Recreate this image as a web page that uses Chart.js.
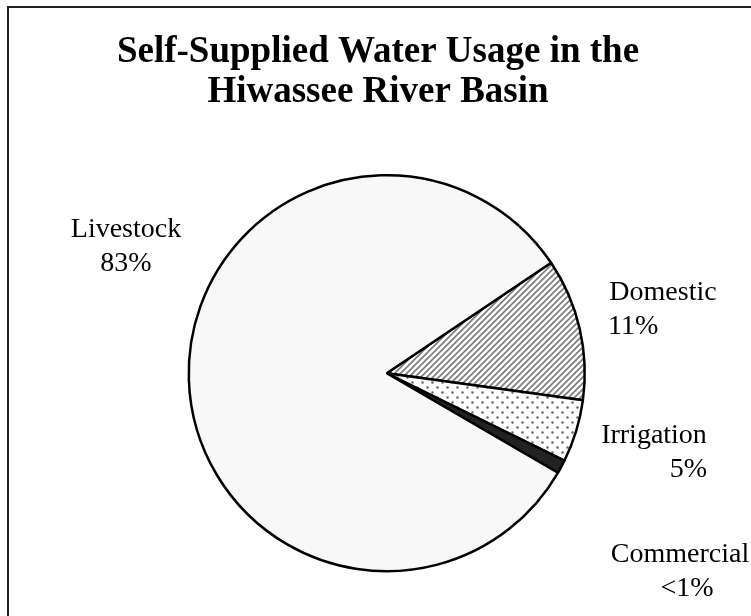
<!DOCTYPE html>
<html lang="en">
<head>
    <meta charset="UTF-8">
    <title>Self-Supplied Water Usage in the Hiwassee River Basin</title>
    <style>
        body {
            margin: 0;
            padding: 0;
            background-color: #ffffff;
        }
        #wrap {
            position: relative;
            width: 751px;
            height: 616px;
        }
    </style>
</head>
<body>

<div id="wrap">
    <canvas id="waterChart" width="751" height="616"></canvas>
</div>

<script src="https://cdn.jsdelivr.net/npm/chart.js@4.4.0/dist/chart.umd.min.js"></script>
<script>
    // data
    const categories = ['Domestic', 'Irrigation', 'Commercial', 'Livestock'];
    const usageShare = [11.6, 5.1, 1.1, 82.2]; // percent of self-supplied use
    const shareLabels = ['11%', '5%', '<1%', '83%'];
    const titleLines = ['Self-Supplied Water Usage in the', 'Hiwassee River Basin'];

    // label layout: name centre x, first baseline y, and x / align of the percent line
    const labelSpots = [
        { x: 663, y: 300, px: 608, align: 'left' },
        { x: 654, y: 443, px: 707, align: 'right' },
        { x: 680, y: 562, px: 687, align: 'center' },
        { x: 126, y: 237, px: 126, align: 'center' }
    ];

    function makePattern(kind) {
        const c = document.createElement('canvas');
        const g = c.getContext('2d');
        if (kind === 'stripes') {
            c.width = 6; c.height = 6;
            g.fillStyle = '#ffffff';
            g.fillRect(0, 0, 6, 6);
            g.strokeStyle = '#7a7a7a';
            g.lineWidth = 1.6;
            g.beginPath();
            g.moveTo(-1, 7); g.lineTo(7, -1);
            g.moveTo(-1, 1); g.lineTo(1, -1);
            g.moveTo(5, 7); g.lineTo(7, 5);
            g.stroke();
        } else {
            c.width = 10; c.height = 10;
            g.fillStyle = '#ffffff';
            g.fillRect(0, 0, 10, 10);
            g.fillStyle = '#666666';
            g.beginPath();
            g.arc(2.5, 2.5, 1.3, 0, Math.PI * 2);
            g.arc(7.5, 7.5, 1.3, 0, Math.PI * 2);
            g.fill();
        }
        return g.createPattern(c, 'repeat');
    }

    const ctx = document.getElementById('waterChart').getContext('2d');
    const fills = [makePattern('stripes'), makePattern('dots'), '#222222', '#f8f8f8'];

    // title, frame and the slice labels
    const decorations = {
        id: 'decorations',
        beforeDraw(chart) {
            const c = chart.ctx;
            c.save();
            c.fillStyle = '#ffffff';
            c.fillRect(0, 0, chart.width, chart.height);
            c.strokeStyle = '#222222';
            c.lineWidth = 2;
            c.strokeRect(8, 7, 770, 640);
            c.restore();
        },
        afterDraw(chart) {
            const c = chart.ctx;
            c.save();
            c.fillStyle = '#000000';
            c.textAlign = 'center';
            c.textBaseline = 'alphabetic';
            c.font = 'bold 37px "Liberation Serif", "Times New Roman", serif';
            c.fillText(titleLines[0], 378, 62);
            c.fillText(titleLines[1], 378, 102);

            c.font = '28px "Liberation Serif", "Times New Roman", serif';
            categories.forEach((name, i) => {
                const s = labelSpots[i];
                c.textAlign = 'center';
                c.fillText(name, s.x, s.y);
                c.textAlign = s.align;
                c.fillText(shareLabels[i], s.px, s.y + 34);
            });
            c.restore();
        }
    };

    new Chart(ctx, {
        type: 'pie',
        data: {
            labels: categories,
            datasets: [{
                data: usageShare,
                backgroundColor: fills,
                borderColor: '#000000',
                borderWidth: 2.5
            }]
        },
        options: {
            responsive: false,
            animation: false,
            rotation: 56.1,
            layout: {
                padding: { left: 187.5, right: 165, top: 174, bottom: 43.5 }
            },
            plugins: {
                legend: { display: false },
                tooltip: { enabled: false },
                title: { display: false }
            }
        },
        plugins: [decorations]
    });
</script>

</body>
</html>
